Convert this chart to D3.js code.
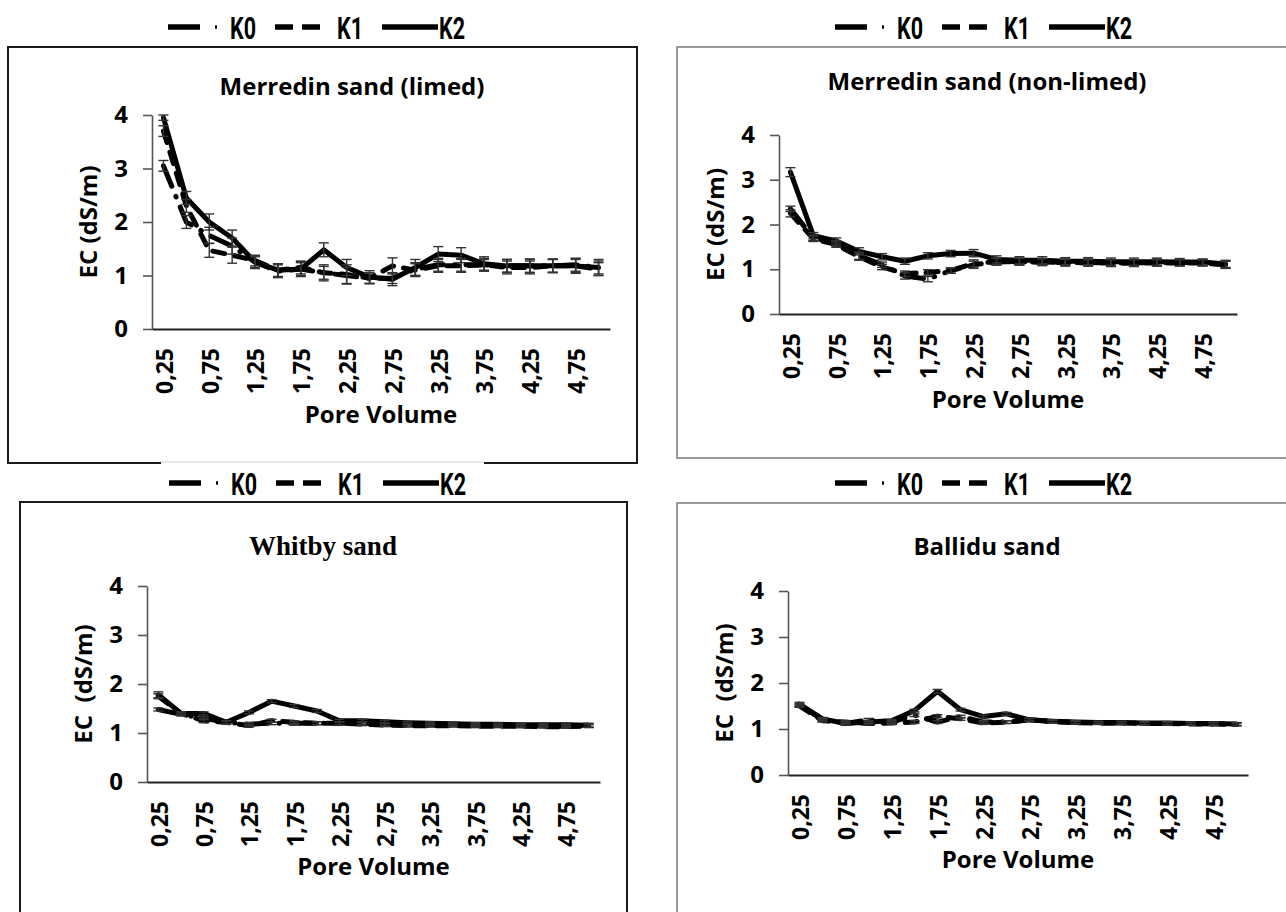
<!DOCTYPE html>
<html><head><meta charset="utf-8">
<script src="https://cdn.jsdelivr.net/npm/d3@7/dist/d3.min.js"></script>
<style>
body{margin:0;background:#fff}
svg{display:block}
text{fill:#000}
</style></head><body>
<svg id="c" width="1286" height="912"></svg>
<script>
// ---------- data ----------
const poreVolume = [0.25,0.5,0.75,1,1.25,1.5,1.75,2,2.25,2.5,2.75,3,3.25,3.5,3.75,4,4.25,4.5,4.75,5];
const xTickLabels = ["0,25","0,75","1,25","1,75","2,25","2,75","3,25","3,75","4,25","4,75"];
const yTicks = [0,1,2,3,4];
const seriesNames = ["K0","K1","K2"];

// Merredin sand (limed)
const limedK0 = [3.05,2.0,1.75,1.55,1.25,1.08,1.12,1.05,1.0,0.95,0.95,1.12,1.2,1.2,1.2,1.18,1.18,1.18,1.2,1.15];
const limedK1 = [3.7,2.3,1.47,1.38,1.28,1.1,1.15,1.05,1.02,0.95,1.18,1.1,1.18,1.18,1.2,1.15,1.15,1.18,1.18,1.12];
const limedK2 = [3.95,2.45,2.0,1.7,1.25,1.1,1.12,1.48,1.15,0.97,0.93,1.15,1.4,1.38,1.22,1.18,1.18,1.18,1.18,1.15];
const limedK0err = [0.1,0.12,0.15,0.15,0.1,0.12,0.12,0.12,0.15,0.1,0.1,0.12,0.12,0.12,0.1,0.12,0.12,0.12,0.12,0.12];
const limedK1err = [0.1,0.12,0.13,0.15,0.1,0.12,0.12,0.15,0.18,0.1,0.15,0.12,0.12,0.12,0.12,0.12,0.12,0.12,0.12,0.12];
const limedK2err = [0.05,0.12,0.15,0.15,0.12,0.12,0.14,0.13,0.15,0.12,0.12,0.15,0.14,0.14,0.13,0.12,0.13,0.13,0.14,0.15];

// Merredin sand (non-limed)
const nonlimedK0 = [2.35,1.7,1.58,1.3,1.1,0.85,0.78,0.97,1.13,1.17,1.17,1.16,1.15,1.15,1.14,1.14,1.15,1.15,1.15,1.1];
const nonlimedK1 = [2.25,1.68,1.55,1.28,1.05,0.9,0.93,0.97,1.1,1.17,1.17,1.16,1.15,1.14,1.14,1.14,1.14,1.14,1.14,1.1];
const nonlimedK2 = [3.17,1.75,1.63,1.4,1.28,1.18,1.3,1.35,1.36,1.22,1.2,1.2,1.18,1.18,1.17,1.17,1.17,1.16,1.16,1.12];
const nonlimedK0err = [0.06,0.06,0.06,0.08,0.06,0.07,0.06,0.06,0.08,0.08,0.08,0.08,0.08,0.08,0.08,0.08,0.08,0.07,0.07,0.08];
const nonlimedK1err = [0.08,0.06,0.06,0.08,0.06,0.06,0.06,0.06,0.08,0.07,0.07,0.07,0.07,0.07,0.07,0.07,0.07,0.07,0.07,0.08];
const nonlimedK2err = [0.1,0.07,0.07,0.08,0.07,0.07,0.07,0.07,0.08,0.08,0.08,0.08,0.08,0.08,0.08,0.08,0.08,0.08,0.07,0.08];

// Whitby sand
const whitbyK0 = [1.48,1.38,1.3,1.22,1.18,1.2,1.2,1.2,1.2,1.2,1.18,1.17,1.17,1.17,1.16,1.15,1.15,1.15,1.14,1.15];
const whitbyK1 = [1.75,1.4,1.25,1.22,1.15,1.25,1.22,1.2,1.2,1.18,1.16,1.15,1.15,1.15,1.14,1.14,1.14,1.13,1.13,1.14];
const whitbyK2 = [1.78,1.4,1.4,1.22,1.42,1.65,1.55,1.45,1.25,1.25,1.23,1.21,1.2,1.19,1.18,1.18,1.17,1.17,1.17,1.16];
const whitbyK0err = [0.03,0.03,0.03,0.03,0.03,0.03,0.03,0.03,0.03,0.03,0.03,0.03,0.03,0.03,0.03,0.03,0.03,0.03,0.03,0.03];
const whitbyK1err = [0.05,0.03,0.04,0.03,0.03,0.03,0.03,0.03,0.03,0.03,0.03,0.03,0.03,0.03,0.03,0.03,0.03,0.03,0.03,0.03];
const whitbyK2err = [0.06,0.03,0.03,0.03,0.03,0.03,0.03,0.03,0.03,0.03,0.03,0.03,0.03,0.03,0.03,0.03,0.03,0.03,0.03,0.04];

// Ballidu sand
const ballK0 = [1.52,1.2,1.12,1.2,1.15,1.3,1.15,1.27,1.15,1.15,1.2,1.16,1.14,1.13,1.13,1.12,1.12,1.12,1.11,1.1];
const ballK1 = [1.5,1.18,1.15,1.12,1.13,1.15,1.28,1.22,1.13,1.15,1.2,1.16,1.14,1.13,1.13,1.12,1.12,1.11,1.11,1.1];
const ballK2 = [1.54,1.22,1.12,1.15,1.18,1.4,1.82,1.42,1.27,1.33,1.2,1.17,1.15,1.14,1.14,1.13,1.13,1.12,1.12,1.11];
const ballK0err = [0.03,0.03,0.03,0.03,0.03,0.03,0.03,0.03,0.03,0.03,0.03,0.03,0.03,0.03,0.03,0.03,0.03,0.03,0.03,0.03];
const ballK1err = [0.03,0.03,0.03,0.03,0.03,0.03,0.03,0.03,0.03,0.03,0.03,0.03,0.03,0.03,0.03,0.03,0.03,0.03,0.03,0.03];
const ballK2err = [0.04,0.03,0.03,0.03,0.03,0.03,0.04,0.03,0.03,0.03,0.03,0.03,0.03,0.03,0.03,0.03,0.03,0.03,0.03,0.03];

// ---------- layout ----------
const panels = [
  {title:"Merredin sand (limed)", titleFont:"sans", tx:352, ty:87, ytitle:"EC (dS/m)",
   box:[8,47,637,463], boxColor:"#1a1a1a", legend:[168,27],
   x0:152, x1:610, yTop:115, yBot:329, series:[limedK0,limedK1,limedK2], errs:[limedK0err,limedK1err,limedK2err]},
  {title:"Merredin sand (non-limed)", titleFont:"sans", tx:987, ty:82, ytitle:"EC (dS/m)",
   box:[677,47,1292,458], boxColor:"#9a9a9a", legend:[835,27],
   x0:779, x1:1237, yTop:135, yBot:314, series:[nonlimedK0,nonlimedK1,nonlimedK2], errs:[nonlimedK0err,nonlimedK1err,nonlimedK2err]},
  {title:"Whitby sand", titleFont:"serif", tx:323, ty:546, ytitle:"EC  (dS/m)",
   box:[20,502,627,920], boxColor:"#1a1a1a", legend:[169,483],
   x0:147, x1:600, yTop:586, yBot:782, series:[whitbyK0,whitbyK1,whitbyK2], errs:[whitbyK0err,whitbyK1err,whitbyK2err]},
  {title:"Ballidu sand", titleFont:"sans", tx:987, ty:547, ytitle:"EC  (dS/m)",
   box:[677,503,1292,920], boxColor:"#9a9a9a", legend:[835,483],
   x0:788, x1:1248, yTop:591, yBot:775, series:[ballK0,ballK1,ballK2], errs:[ballK0err,ballK1err,ballK2err]}
];

const dashes = ["22,11,0.5,11","12,10",null];
const svg = d3.select("#c");
const FONT = "'Open Sans',Lato,sans-serif";
const SERIF = "'Liberation Serif','Times New Roman',serif";

panels.forEach((p,pi)=>{
  const g = svg.append("g");
  g.append("rect").attr("x",p.box[0]).attr("y",p.box[1])
    .attr("width",p.box[2]-p.box[0]).attr("height",p.box[3]-p.box[1])
    .attr("fill","#fff").attr("stroke",p.boxColor).attr("stroke-width",2);

  const x = d3.scaleBand().domain(poreVolume).range([p.x0,p.x1]).padding(0);
  const bw = x.bandwidth();
  const cx = v => x(v)+bw/2;
  const y = d3.scaleLinear().domain([0,4]).range([p.yBot,p.yTop]);

  // y axis
  const ya = g.append("g").attr("transform",`translate(${p.x0},0)`)
    .call(d3.axisLeft(y).tickValues(yTicks).tickSize(9).tickSizeOuter(0).tickPadding(15).tickFormat(d3.format("d")));
  ya.select(".domain").attr("stroke","#555").attr("stroke-width",1.6);
  ya.selectAll(".tick line").attr("stroke","#555").attr("stroke-width",1.6);
  ya.selectAll(".tick text").style("font-family",FONT).style("font-weight","bold")
    .style("font-size","24px").attr("fill","#000");

  // x axis
  const xa = g.append("g").attr("transform",`translate(0,${p.yBot})`)
    .call(d3.axisBottom(x).tickValues(poreVolume.filter((d,i)=>i%2===0)).tickSize(0).tickSizeOuter(0)
      .tickFormat((d,i)=>xTickLabels[i]));
  xa.select(".domain").attr("stroke","#222").attr("stroke-width",2.2);
  xa.selectAll(".tick text").style("font-family",FONT).style("font-weight","bold")
    .style("font-size","23px").attr("fill","#000")
    .attr("text-anchor","end").attr("transform","translate(1,19) rotate(-90)")
    .attr("x",0).attr("y",0).attr("dy","0.36em");
  // axis titles
  g.append("text").attr("x",(p.x0+p.x1)/2).attr("y",(p.yBot+ (pi<2?94:93)))
    .attr("text-anchor","middle").style("font-family",FONT).style("font-weight","bold").style("font-size","24px").text("Pore Volume");
  g.append("text").attr("transform",`translate(${p.x0-55},${(p.yTop+p.yBot)/2}) rotate(-90)`)
    .attr("text-anchor","middle").style("font-family",FONT).style("font-weight","bold").style("font-size","24px")
    .style("white-space","pre").text(p.ytitle);
  // title
  g.append("text").attr("x",p.tx).attr("y",p.ty).attr("dy","0.35em").attr("text-anchor","middle")
    .style("font-weight","bold")
    .style("font-family",p.titleFont==="serif"?SERIF:FONT)
    .style("font-size",p.titleFont==="serif"?"27px":"24px").text(p.title);

  // lines
  const line = d3.line().x((d,i)=>cx(poreVolume[i])).y(d=>y(d));
  p.series.forEach((s,si)=>{
    g.append("path").datum(s).attr("d",line).attr("fill","none")
      .attr("stroke","#000").attr("stroke-width",5)
      .attr("stroke-linecap","round").attr("stroke-linejoin","round")
      .attr("stroke-dasharray",dashes[si]);
  });
  // error bars
  p.series.forEach((s,si)=>{
    const e = p.errs[si];
    const eg = g.append("g").attr("stroke","#333").attr("stroke-width",1.4);
    s.forEach((v,i)=>{
      const xx = cx(poreVolume[i]);
      eg.append("line").attr("x1",xx).attr("x2",xx).attr("y1",y(v-e[i])).attr("y2",y(v+e[i]));
      eg.append("line").attr("x1",xx-5).attr("x2",xx+5).attr("y1",y(v-e[i])).attr("y2",y(v-e[i]));
      eg.append("line").attr("x1",xx-5).attr("x2",xx+5).attr("y1",y(v+e[i])).attr("y2",y(v+e[i]));
    });
  });

  // legend
  const [lx,ly] = p.legend;
  const lg = g.append("g").attr("stroke","#000").attr("stroke-width",5.5);
  lg.append("line").attr("x1",lx).attr("x2",lx+32).attr("y1",ly).attr("y2",ly);
  lg.append("line").attr("x1",lx+47).attr("x2",lx+49).attr("y1",ly).attr("y2",ly).attr("stroke-width",3.5);
  lg.append("line").attr("x1",lx+107).attr("x2",lx+125).attr("y1",ly).attr("y2",ly);
  lg.append("line").attr("x1",lx+134).attr("x2",lx+152).attr("y1",ly).attr("y2",ly);
  lg.append("line").attr("x1",lx+214).attr("x2",lx+270).attr("y1",ly).attr("y2",ly);
  const lt = [[62,seriesNames[0]],[169,seriesNames[1]],[271,seriesNames[2]]];
  lt.forEach(([dx,t])=>{
    g.append("text").attr("x",lx+dx).attr("y",ly+11.5).style("font-family","Roboto")
      .style("font-weight","bold").style("font-size","32px")
      .attr("textLength",26).attr("lengthAdjust","spacingAndGlyphs").text(t);
  });
});

// white legend backdrop overlapping the top-left box's bottom border
svg.append("rect").attr("x",161).attr("y",459).attr("width",323).attr("height",7).attr("fill","#fff");
svg.append("line").attr("x1",161).attr("x2",484).attr("y1",462).attr("y2",462).attr("stroke","#d0d0d0").attr("stroke-width",1);
</script>
</body></html>
